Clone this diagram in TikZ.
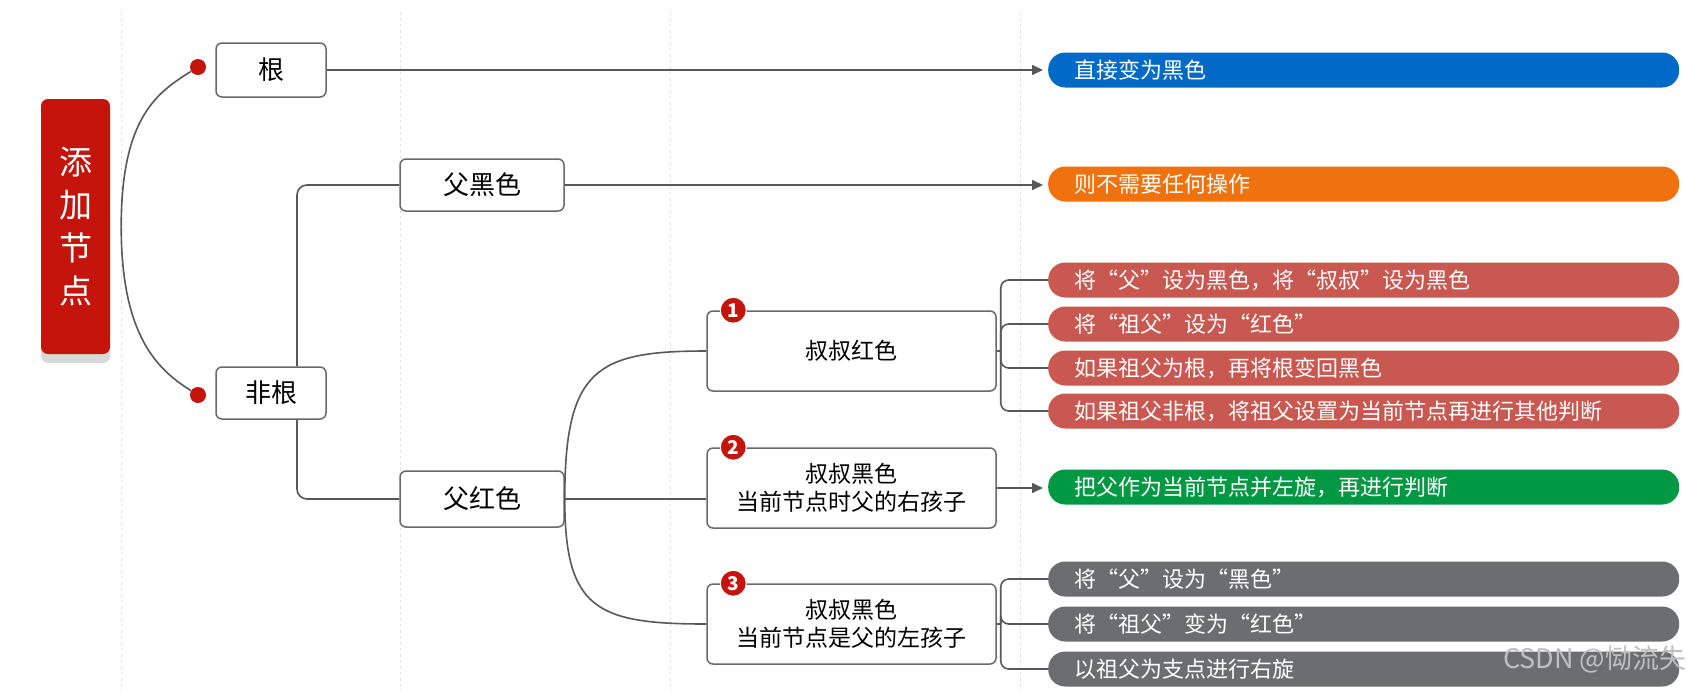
\documentclass[tikz,border=0pt]{standalone}
\usepackage{fontspec}
\setmainfont{Noto Sans CJK SC}
\usetikzlibrary{positioning,arrows.meta,shadows}

\definecolor{rootred}{RGB}{196,20,12}
\definecolor{linegray}{RGB}{88,88,88}
\definecolor{boxgray}{RGB}{105,105,105}
\definecolor{guidegray}{RGB}{226,226,226}
\definecolor{pillblue}{RGB}{0,106,198}
\definecolor{pillorange}{RGB}{240,114,14}
\definecolor{pillred}{RGB}{201,88,80}
\definecolor{pillgreen}{RGB}{0,152,66}
\definecolor{pillgray}{RGB}{108,109,112}

\tikzset{
  topic/.style={draw=boxgray,line width=1.5pt,rounded corners=6pt,fill=white,
    inner sep=0pt,font=\fontsize{26}{30}\selectfont},
  subtopic/.style={topic,minimum width=289pt,minimum height=80pt,align=center,
    font=\fontsize{23}{28}\selectfont},
  pill/.style={rounded corners=17pt,minimum height=35pt,text width=579pt,
    inner xsep=26pt,inner ysep=0pt,align=left,anchor=west,text=white,
    font=\fontsize{22}{26}\selectfont},
  link/.style={draw=linegray,line width=1.6pt},
  arrow/.style={link,-{Triangle[length=11pt,width=10pt]},shorten >=5pt},
  dot/.style={circle,fill=rootred,minimum size=16pt,inner sep=0pt},
  badge/.style={circle,fill=rootred,draw=white,line width=1pt,minimum size=26pt,
    inner sep=0pt,text=white,font=\fontsize{19}{19}\selectfont\bfseries},
}

\begin{document}
\begin{tikzpicture}[x=1pt,y=-1pt]
  \useasboundingbox (0,0) rectangle (1693,691);
  % guide lines
  \foreach \gx in {121,400,670,1020}
    \draw[guidegray,line width=0.8pt,dash pattern=on 3pt off 3pt] (\gx,12) -- (\gx,691);

  % root
  \node[fill=rootred,rounded corners=7pt,minimum width=69pt,minimum height=255pt,
    text=white,align=center,font=\fontsize{33}{43}\selectfont,
    drop shadow={shadow xshift=0pt,shadow yshift=-9pt,fill=black!25,opacity=0.6}]
    (root) at (75.5,226.5) {添\\加\\节\\点};

  % first level
  \node[dot] (dotA) at (198,67) {};
  \node[dot] (dotB) at (198,395) {};
  \node[topic,minimum width=110pt,minimum height=54pt] (gen) at (271,70) {根};
  \node[topic,minimum width=110pt,minimum height=52pt] (feigen) at (271,393) {非根};

  % second level
  \node[topic,minimum width=164pt,minimum height=52pt] (fuhei) at (482,185) {父黑色};
  \node[topic,minimum width=164pt,minimum height=56pt] (fuhong) at (482,499) {父红色};

  % cases
  \node[subtopic] (case1) at (851.5,351) {叔叔红色};
  \node[subtopic] (case2) at (851.5,488) {叔叔黑色\\当前节点时父的右孩子};
  \node[subtopic] (case3) at (851.5,624) {叔叔黑色\\当前节点是父的左孩子};
  \node[badge] (num1) at ([xshift=27pt]case1.north west) {1};
  \node[badge] (num2) at ([xshift=27pt]case2.north west) {2};
  \node[badge] (num3) at ([xshift=27pt]case3.north west) {3};

  % results
  \node[pill,fill=pillblue] (blue) at (1048,70) {直接变为黑色};
  \node[pill,fill=pillorange] (orange) at (1048,184) {则不需要任何操作};
  \node[pill,fill=pillred] (red1) at (1048,280) {将“父”设为黑色，将“叔叔”设为黑色};
  \node[pill,fill=pillred] (red2) at (1048,324) {将“祖父”设为“红色”};
  \node[pill,fill=pillred] (red3) at (1048,368) {如果祖父为根，再将根变回黑色};
  \node[pill,fill=pillred] (red4) at (1048,411) {如果祖父非根，将祖父设置为当前节点再进行其他判断};
  \node[pill,fill=pillgreen] (green) at (1048,487) {把父作为当前节点并左旋，再进行判断};
  \node[pill,fill=pillgray] (gray1) at (1048,579) {将“父”设为“黑色”};
  \node[pill,fill=pillgray] (gray2) at (1048,624) {将“祖父”变为“红色”};
  \node[pill,fill=pillgray] (gray3) at (1048,669) {以祖父为支点进行右旋};

  % connectors
  \coordinate (hub) at ([xshift=11pt]root.east);
  \draw[link] (hub) .. controls +(0,-110) and +(-40,25) .. (dotA);
  \draw[link] (hub) .. controls +(0,110) and +(-40,-25) .. (dotB);
  \draw[link,rounded corners=10pt] ([xshift=26pt]feigen.north) |- (fuhei.west);
  \draw[link,rounded corners=10pt] ([xshift=26pt]feigen.south) |- (fuhong.west);
  \draw[arrow] (gen.east) -- (gen.east -| blue.west);
  \draw[arrow] (fuhei.east) -- (fuhei.east -| orange.west);
  \draw[link] (fuhong.east) .. controls +(0,-130) and +(-110,0) .. (case1.west);
  \draw[link] (fuhong.east) -- (fuhong.east -| case2.west);
  \draw[link] (fuhong.east) .. controls +(0,110) and +(-110,0) .. (case3.west);
  \coordinate (fork1) at ([xshift=4pt]case1.east);
  \coordinate (fork3) at ([xshift=4pt]case3.east);
  \draw[link] (case1.east) -- (fork1);
  \draw[link] (case3.east) -- (fork3);
  \foreach \r in {red1,red2,red3,red4}
    \draw[link,rounded corners=8pt] (fork1) |- (\r.west);
  \foreach \r in {gray1,gray2,gray3}
    \draw[link,rounded corners=8pt] (fork3) |- (\r.west);
  \draw[arrow] (case2.east) -- (case2.east -| green.west);

  % watermark
  \node[text=gray!50,font=\fontsize{27}{30}\selectfont,anchor=east] (watermark) at (1690,659) {CSDN @恸流失};
\end{tikzpicture}
\end{document}
